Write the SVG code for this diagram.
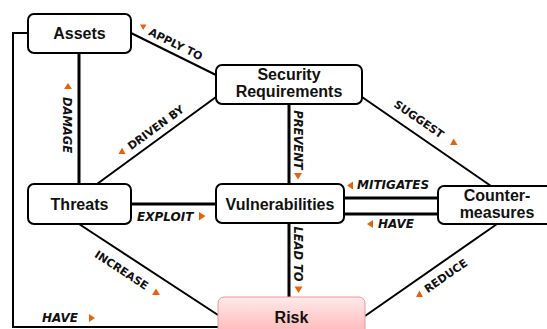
<svg xmlns="http://www.w3.org/2000/svg" width="547" height="329" viewBox="0 0 547 329">
  <style>
    .node rect { fill: #ffffff; stroke: #000000; stroke-width: 2; }
    .node text { font-family: "Liberation Sans", Arial, sans-serif; font-weight: bold; font-size: 16px; fill: #111111; text-anchor: middle; }
    .edge { fill: none; stroke: #000000; stroke-width: 2; }
    .edge.thick { stroke-width: 3; }
    .lbl { font-family: "DejaVu Sans", Verdana, sans-serif; font-weight: bold; font-size: 11px; fill: #111111; }
    .lbl.it { font-style: italic; font-size: 12px; }
    .lbl.it.v { font-size: 11.5px; }
    .mid { text-anchor: middle; }
    .tri { fill: #e8620c; }
  </style>
  <defs>
    <linearGradient id="riskFill" x1="0" y1="0" x2="0" y2="1">
      <stop offset="0" stop-color="#ffeaea"/>
      <stop offset="1" stop-color="#ffb0b0"/>
    </linearGradient>
  </defs>

  <g id="connectors">
    <!-- Assets -> Risk (HAVE), running around the left side -->
    <polyline class="edge" points="28,33 13,33 13,327 219,327"/>
    <!-- Assets - Security Requirements -->
    <line class="edge" x1="131" y1="33" x2="216" y2="75"/>
    <!-- Assets - Threats -->
    <line class="edge thick" x1="79" y1="53" x2="79" y2="184"/>
    <!-- Security Requirements - Threats -->
    <line class="edge" x1="216" y1="97" x2="97" y2="184"/>
    <!-- Security Requirements - Vulnerabilities -->
    <line class="edge thick" x1="289" y1="104" x2="289" y2="184"/>
    <!-- Security Requirements - Countermeasures -->
    <line class="edge" x1="362" y1="97" x2="491" y2="186"/>
    <!-- Threats - Vulnerabilities -->
    <line class="edge thick" x1="131" y1="204" x2="216" y2="204"/>
    <!-- Vulnerabilities - Countermeasures (two links) -->
    <line class="edge thick" x1="344" y1="198" x2="438" y2="198"/>
    <line class="edge thick" x1="344" y1="214" x2="438" y2="214"/>
    <!-- Vulnerabilities - Risk -->
    <line class="edge thick" x1="289" y1="223" x2="289" y2="297"/>
    <!-- Threats - Risk -->
    <line class="edge" x1="79" y1="224" x2="218" y2="315"/>
    <!-- Countermeasures - Risk -->
    <line class="edge" x1="497" y1="224" x2="365" y2="316"/>

    <!-- link labels -->
    <text class="lbl mid" transform="translate(174,47.6) rotate(26.3)">APPLY TO</text>
    <text class="lbl it v mid" transform="translate(63,125) rotate(90)">DAMAGE</text>
    <text class="lbl mid" transform="translate(158,130.7) rotate(-36.2)">DRIVEN BY</text>
    <text class="lbl it v mid" transform="translate(294,140) rotate(90)">PREVENT</text>
    <text class="lbl mid" transform="translate(416.7,122.3) rotate(34.6)">SUGGEST</text>
    <text class="lbl it" x="137" y="221">EXPLOIT</text>
    <text class="lbl it" x="357" y="189">MITIGATES</text>
    <text class="lbl it" x="378" y="228">HAVE</text>
    <text class="lbl it v mid" transform="translate(294,254) rotate(90)">LEAD TO</text>
    <text class="lbl mid" transform="translate(119.5,273.3) rotate(33.2)">INCREASE</text>
    <text class="lbl mid" transform="translate(448,279) rotate(-34.9)">REDUCE</text>
    <text class="lbl it" x="42" y="322">HAVE</text>

    <!-- direction markers -->
    <polygon class="tri" points="140,24.5 146.5,24.5 143.2,30"/>
    <polygon class="tri" points="64,89 72,89 68,83"/>
    <polygon class="tri" points="118.5,154 125.5,154 122,147.5"/>
    <polygon class="tri" points="294,173 302,173 298,179.5"/>
    <polygon class="tri" points="450,145 457.5,145 453.7,138.5"/>
    <polygon class="tri" points="199,212 199,220.5 205.5,216"/>
    <polygon class="tri" points="353,181.5 353,189.5 347,185.5"/>
    <polygon class="tri" points="373,220 373,228 367,224"/>
    <polygon class="tri" points="294.5,286.5 302.5,286.5 298.5,293"/>
    <polygon class="tri" points="152,295 160,295 156,288.5"/>
    <polygon class="tri" points="416,297 423,297 419.5,290.5"/>
    <polygon class="tri" points="89,314 89,322 95,318"/>
  </g>

  <g id="assets" class="node">
    <rect x="28" y="14" width="103" height="39" rx="6"/>
    <text x="79.5" y="39">Assets</text>
  </g>
  <g id="security-requirements" class="node">
    <rect x="216" y="65" width="146" height="39" rx="6"/>
    <text x="289" y="80">Security</text>
    <text x="289" y="96.5">Requirements</text>
  </g>
  <g id="threats" class="node">
    <rect x="28" y="184" width="103" height="40" rx="6"/>
    <text x="79.5" y="209.5">Threats</text>
  </g>
  <g id="vulnerabilities" class="node">
    <rect x="216" y="184" width="128" height="39" rx="6"/>
    <text x="280" y="209.5">Vulnerabilities</text>
  </g>
  <g id="countermeasures" class="node">
    <rect x="438" y="186" width="118" height="38" rx="6"/>
    <text x="497" y="201">Counter-</text>
    <text x="497" y="217.5">measures</text>
  </g>
  <g id="risk" class="node">
    <rect x="218" y="297" width="147" height="42" rx="6" style="fill:url(#riskFill);stroke:#e39a9a;stroke-width:1"/>
    <text x="291.5" y="323">Risk</text>
  </g>
</svg>
